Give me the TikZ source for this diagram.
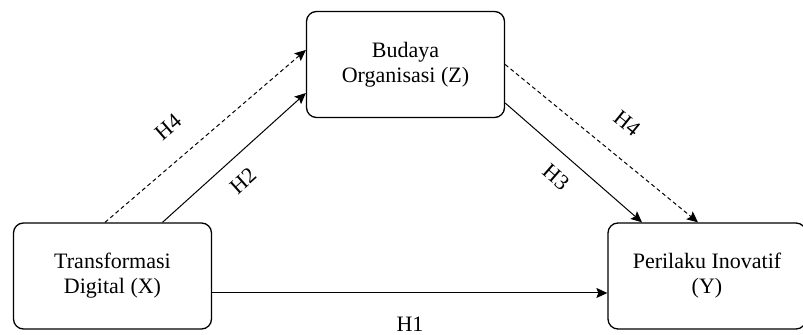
\documentclass[tikz,border=0pt]{standalone}
\usepackage{fontspec}
\setmainfont{Liberation Serif}
\usetikzlibrary{arrows.meta}

\begin{document}
\begin{tikzpicture}[
  x=0.5pt, y=-0.5pt,
  font=\fontsize{11}{12.5}\selectfont,
  var/.style={rounded corners=5pt, draw=black, line width=0.65pt, fill=white, minimum width=99pt, minimum height=53pt, align=center},
  arr/.style={-{Stealth[length=5.5pt, width=5pt, inset=1pt]}, line width=0.5pt},
  med/.style={arr, dash pattern=on 2pt off 1.5pt},
  hyp/.style={inner sep=1pt},
]
\useasboundingbox (0,0) rectangle (803,335);

% ======================= variables =======================
\node[var] (X) at (112.5,276) {Transformasi\\ Digital (X)};
\node[var] (Z) at (405.5,64.5) {Budaya\\ Organisasi (Z)};
\node[var] (Y) at (707,276) {Perilaku Inovatif\\ (Y)};

% ======================= paths =======================
\draw[med] ([xshift=-3.75pt]X.north) -- ([yshift=7.25pt]Z.west);
\draw[arr] ([xshift=25pt]X.north) -- ([yshift=-14.25pt]Z.west);
\draw[med] (Z.east) -- ([xshift=-4.5pt]Y.north);
\draw[arr] ([yshift=-19.25pt]Z.east) -- ([xshift=-32.5pt]Y.north);
\draw[arr] ([yshift=-8.5pt]X.east) -- ([yshift=-8.5pt]Y.west);

% ======================= hypothesis labels =======================
\node[hyp, rotate=41]  (h4a) at (168,127) {H4};
\node[hyp, rotate=42]  (h2)  at (243,181) {H2};
\node[hyp, rotate=-39] (h4b) at (627,123) {H4};
\node[hyp, rotate=-41] (h3)  at (556,177) {H3};
\node[hyp]             (h1)  at (410,324) {H1};

\end{tikzpicture}
\end{document}
